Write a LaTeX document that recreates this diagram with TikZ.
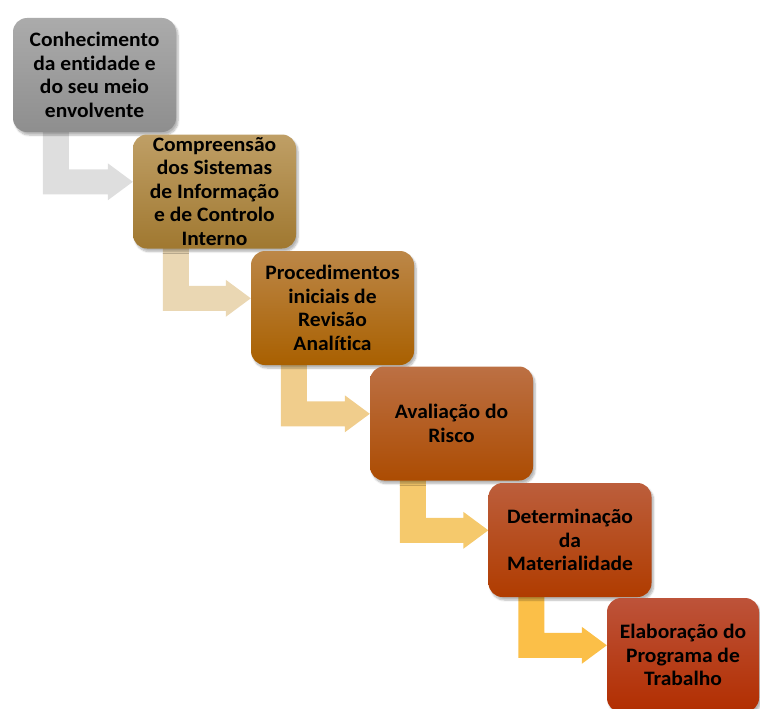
\documentclass[tikz,border=0pt]{standalone}
\usepackage{fontspec}
\setmainfont{Carlito}[FakeStretch=1.05,Ligatures=NoCommon]
\usetikzlibrary{calc,backgrounds,shadows.blur}
\definecolor{g1t}{HTML}{ABABAB}\definecolor{g1b}{HTML}{8E8E8E}
\definecolor{g2t}{HTML}{BF9F66}\definecolor{g2b}{HTML}{A07830}
\definecolor{g3t}{HTML}{BC8748}\definecolor{g3b}{HTML}{A96000}
\definecolor{g4t}{HTML}{BC7044}\definecolor{g4b}{HTML}{AC4C02}
\definecolor{g5t}{HTML}{BC5E3C}\definecolor{g5b}{HTML}{B03C00}
\definecolor{g6t}{HTML}{BD533A}\definecolor{g6b}{HTML}{B22E00}
\definecolor{a1}{HTML}{DEDEDE}
\definecolor{a2}{HTML}{EAD7B3}
\definecolor{a3}{HTML}{F0CD8C}
\definecolor{a4}{HTML}{F5C96C}
\definecolor{a5}{HTML}{FBBF48}
\tikzset{
  stepbox/.style={rounded corners=14pt, minimum width=163pt, minimum height=114pt,
    inner sep=0pt, align=center,
    font=\fontsize{20.5pt}{23.5pt}\selectfont\bfseries,
    blur shadow={shadow xshift=2pt, shadow yshift=-3pt, shadow opacity=30, shadow blur steps=6}},
}
\newcommand\bentarrow[3]{%
  \fill[#3] let \p1=(#1.south west), \p2=(#2.north west) in
    (\x1+30pt,\y1+8pt) -- (\x1+56pt,\y1+8pt) -- (\x1+56pt,\y2-35pt)
    -- (\x2-25pt,\y2-35pt) -- (\x2-25pt,\y2-29pt) -- (\x2,\y2-47.5pt)
    -- (\x2-25pt,\y2-66pt) -- (\x2-25pt,\y2-60pt) -- (\x1+30pt,\y2-60pt) -- cycle;}
\begin{document}
\begin{tikzpicture}[x=1pt,y=-1pt]
\useasboundingbox (0,0) rectangle (760,709);
\node[stepbox, top color=g1t, bottom color=g1b] (b1) at (94.5,75) {Conhecimento\\da entidade e\\do seu meio\\envolvente};
\node[stepbox, top color=g2t, bottom color=g2b] (b2) at (214.5,191.5) {Compreensão\\dos Sistemas\\de Informação\\e de Controlo\\Interno};
\node[stepbox, top color=g3t, bottom color=g3b] (b3) at (332.5,308) {Procedimentos\\iniciais de\\Revisão\\Analítica};
\node[stepbox, top color=g4t, bottom color=g4b] (b4) at (451.5,423.5) {Avaliação do\\Risco};
\node[stepbox, top color=g5t, bottom color=g5b] (b5) at (570,540) {Determinação\\da\\Materialidade};
\node[stepbox, top color=g6t, bottom color=g6b, minimum width=152pt] (b6) at (683,655) {Elaboração do\\Programa de\\Trabalho};
\begin{scope}[on background layer]
\bentarrow{b1}{b2}{a1}
\bentarrow{b2}{b3}{a2}
\bentarrow{b3}{b4}{a3}
\bentarrow{b4}{b5}{a4}
\bentarrow{b5}{b6}{a5}
\end{scope}
\end{tikzpicture}
\end{document}
